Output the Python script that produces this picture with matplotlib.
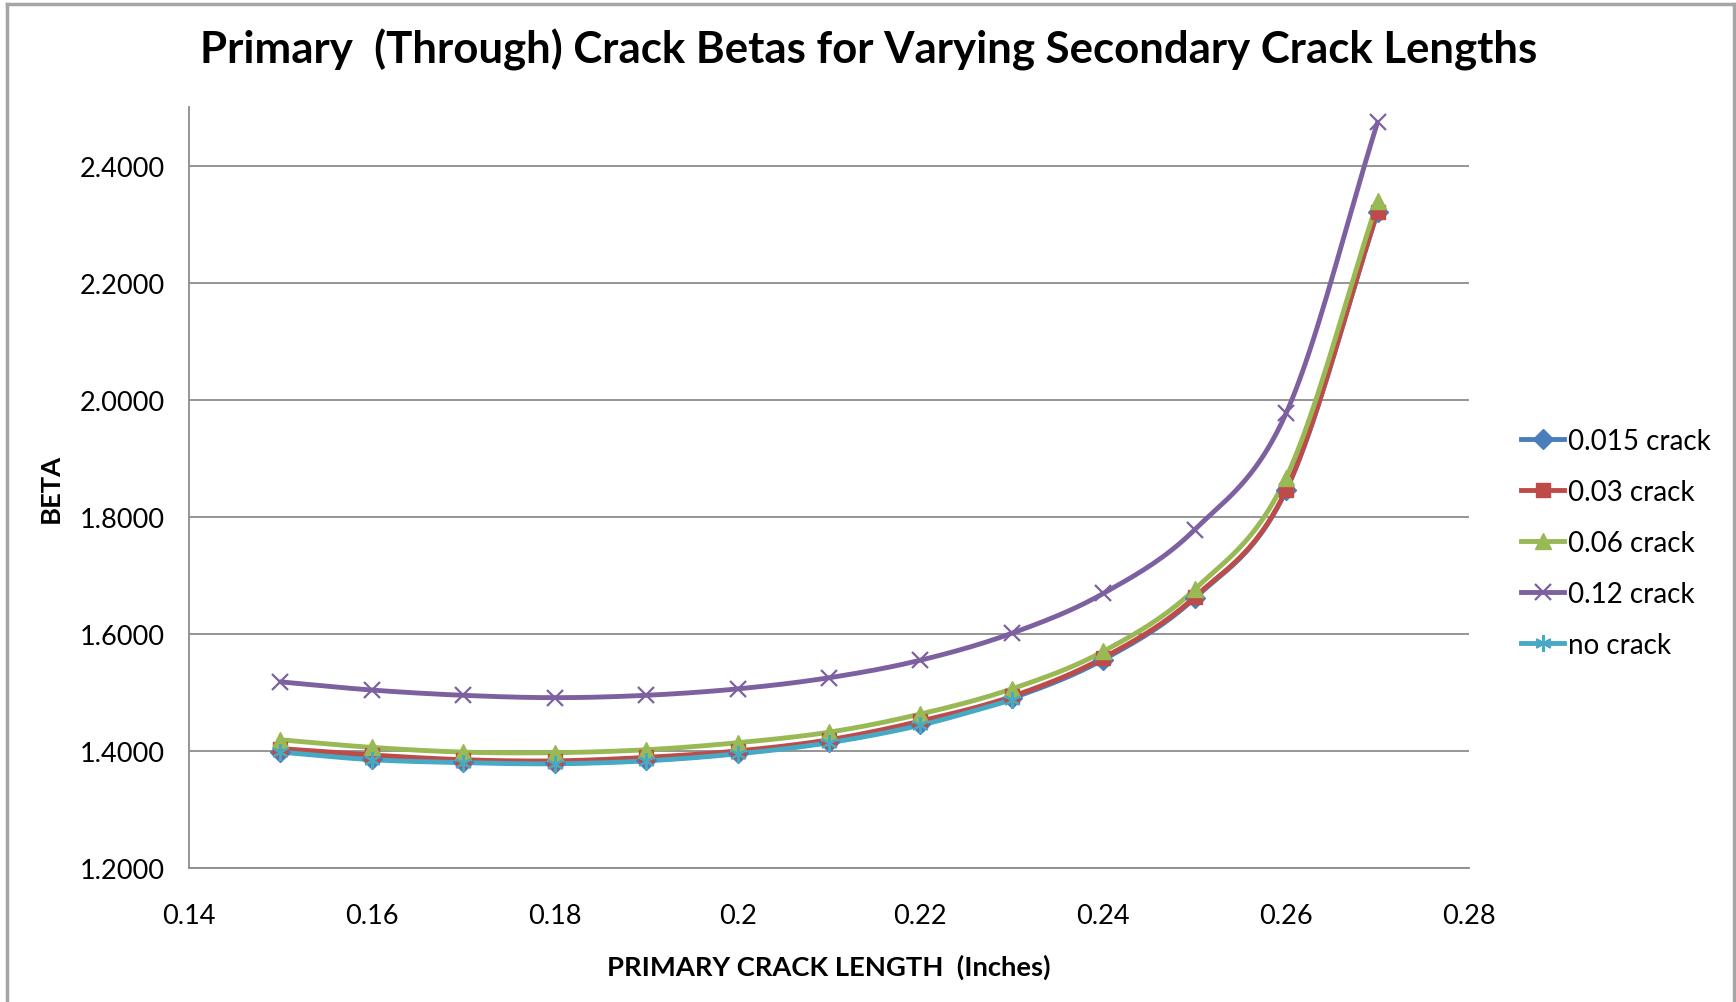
import numpy as np
import matplotlib.pyplot as plt
from matplotlib.lines import Line2D

plt.rcParams['font.family'] = ['Lato', 'DejaVu Sans']

# primary crack length (inches)
x_len = [0.15, 0.16, 0.17, 0.18, 0.19, 0.20, 0.21, 0.22, 0.23, 0.24, 0.25, 0.26, 0.27]

beta_015 = [1.399, 1.387, 1.381, 1.379, 1.384, 1.396, 1.415, 1.446, 1.490, 1.556, 1.661, 1.845, 2.320]
beta_03 = [1.404, 1.393, 1.385, 1.383, 1.389, 1.400, 1.419, 1.451, 1.493, 1.559, 1.663, 1.846, 2.321]
beta_06 = [1.419, 1.406, 1.398, 1.397, 1.402, 1.414, 1.432, 1.463, 1.506, 1.570, 1.676, 1.867, 2.339]
beta_12 = [1.518, 1.504, 1.495, 1.491, 1.495, 1.506, 1.525, 1.555, 1.601, 1.669, 1.778, 1.977, 2.474]
beta_none = [1.398, 1.385, 1.380, 1.378, 1.383, 1.395, 1.414, 1.444, 1.487]  # stops at 0.23

labels = ['0.015 crack', '0.03 crack', '0.06 crack', '0.12 crack', 'no crack']
colors = ['#4a7ebb', '#be4b48', '#98b954', '#7d60a0', '#46aac5']
markers = ['D', 's', '^', 'x', (6, 2, 0)]
line_marks = [False, False, False, True, True]


def smooth(xs, ys, n=20):
    # catmull-rom style curve, like the spreadsheet's smoothed lines
    xs = np.asarray(xs, float)
    ys = np.asarray(ys, float)
    px = np.concatenate([[2 * xs[0] - xs[1]], xs, [2 * xs[-1] - xs[-2]]])
    py = np.concatenate([[2 * ys[0] - ys[1]], ys, [2 * ys[-1] - ys[-2]]])
    ox, oy = [], []
    t = np.linspace(0, 1, n, endpoint=False)
    for i in range(1, len(px) - 2):
        for arr, out in ((px, ox), (py, oy)):
            p0, p1, p2, p3 = arr[i - 1], arr[i], arr[i + 1], arr[i + 2]
            out.extend(0.5 * ((2 * p1) + (-p0 + p2) * t
                              + (2 * p0 - 5 * p1 + 4 * p2 - p3) * t ** 2
                              + (-p0 + 3 * p1 - 3 * p2 + p3) * t ** 3))
    ox.append(xs[-1])
    oy.append(ys[-1])
    return np.array(ox), np.array(oy)


def mstyle(c, m, thin):
    if thin:
        return dict(marker=m, ms=12, mew=1.6, color=c)
    return dict(marker=m, ms=10 if m != '^' else 11, mec=c, mfc=c, color=c)


fig = plt.figure(figsize=(17.36, 10.03), dpi=100)
ax = fig.add_axes([189 / 1736, 1 - 869 / 1003, (1469 - 189) / 1736, (869 - 108) / 1003])

series = [beta_015, beta_03, beta_06, beta_12, beta_none]
for ys, lab, c, m, thin in zip(series, labels, colors, markers, line_marks):
    xs = x_len[:len(ys)]
    sx, sy = smooth(xs, ys)
    ax.plot(sx, sy, color=c, lw=3.5, solid_capstyle='round', zorder=3)
    ax.plot(xs, ys, ls='none', zorder=4, **mstyle(c, m, thin))

ax.set_xlim(0.14, 0.28)
ax.set_ylim(1.2, 2.5)
ax.set_xticks(np.arange(0.14, 0.2801, 0.02))
ax.set_xticklabels(['0.14', '0.16', '0.18', '0.2', '0.22', '0.24', '0.26', '0.28'])
ax.set_yticks(np.arange(1.2, 2.401, 0.2))
ax.set_yticklabels(['%.4f' % v for v in np.arange(1.2, 2.401, 0.2)])
ax.tick_params(labelsize=19.5, length=0)
ax.tick_params(axis='x', pad=25)
ax.tick_params(axis='y', pad=17.5)
ax.yaxis.grid(True, color='#8c8c8c', lw=1.3)
ax.set_axisbelow(True)
for s in ['top', 'right']:
    ax.spines[s].set_visible(False)
for s in ['left', 'bottom']:
    ax.spines[s].set_color('#8c8c8c')
    ax.spines[s].set_linewidth(1.3)

ax.set_xlabel('PRIMARY CRACK LENGTH  (Inches)', fontsize=19.7, fontweight='bold', labelpad=19)
ax.set_ylabel('BETA', fontsize=19.7, fontweight='bold', labelpad=12)
fig.text(869 / 1736, 1 - 50 / 1003, 'Primary  (Through) Crack Betas for Varying Secondary Crack Lengths',
         ha='center', va='center', fontsize=31.5, fontweight='bold')

handles = [Line2D([], [], lw=3.5, label=lab, **mstyle(c, m, thin))
           for lab, c, m, thin in zip(labels, colors, markers, line_marks)]
fig.legend(handles=handles, loc='center left', bbox_to_anchor=(1521 / 1736, 1 - 544 / 1003),
           frameon=False, fontsize=20, handlelength=1.55, handletextpad=0.15, labelspacing=0.9,
           borderaxespad=0, borderpad=0)

# outer chart border
bc = '#a6a6a6'
fig.add_artist(Line2D([7 / 1736, 7 / 1736], [0, 1 - 5 / 1003], color=bc, lw=2.5))
fig.add_artist(Line2D([7 / 1736, 1734 / 1736], [1 - 5 / 1003, 1 - 5 / 1003], color=bc, lw=2.5))
fig.add_artist(Line2D([1734 / 1736, 1734 / 1736], [0, 1 - 5 / 1003], color=bc, lw=2.5))

fig.savefig('out.png', dpi=100)
